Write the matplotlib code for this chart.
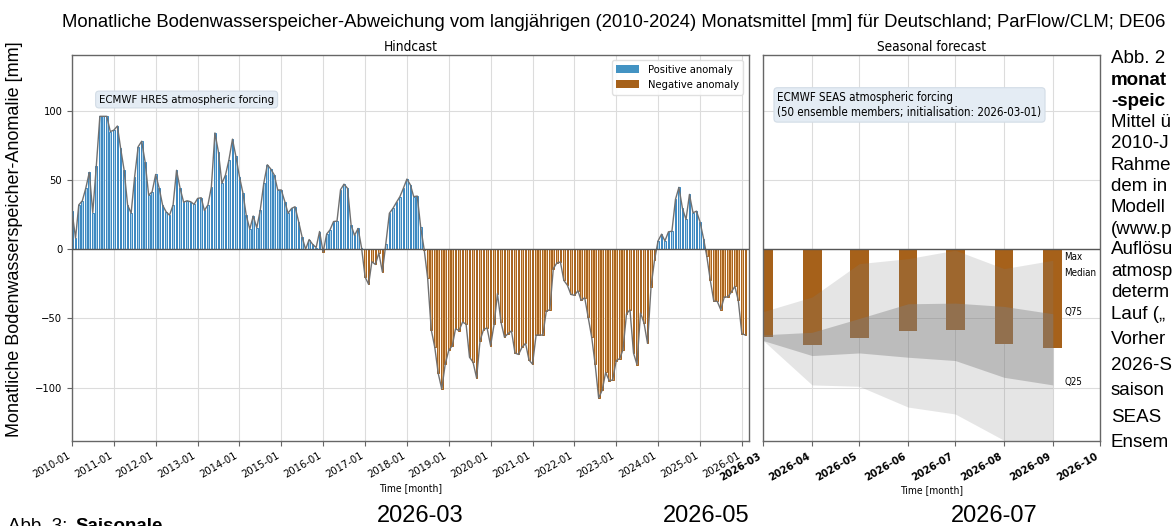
import numpy as np
import matplotlib
matplotlib.use("Agg")
import matplotlib.pyplot as plt
import matplotlib.dates as mdates
from matplotlib.patches import Patch

plt.rcParams["font.family"] = ["DejaVu Sans"]
plt.rcParams["font.stretch"] = "condensed"

# ---------------- data ----------------
hindcast_start = "2010-01"
hindcast_values = [
    27.5, 8, 32, 35, 44, 55.5, 26.5, 60, 96, 96, 96, 85,
    86, 89, 73, 57, 32, 26, 52, 74, 78, 63, 39, 41.5,
    54, 44, 32, 27, 24.6, 32, 57, 44, 34, 35, 34.3, 32.4,
    36.7, 37.2, 28, 32, 45, 84, 70.5, 47.6, 53.6, 64.5, 79.5, 67,
    52.4, 40.3, 24.6, 14.5, 24, 15.5, 28, 47.6, 61, 58, 53.6, 42.8,
    42.8, 34.3, 26, 29.5, 30.7, 20, 9, 0, 7, 3.6, 1.2, 12.8,
    -2, 11, 14, 20, 20.3, 43, 47, 44, 17.4, 10, 15, 1.2,
    -20, -25.4, -9, -11, -2.7, -16.4, 4, 26, 29.5, 33.8, 38, 44,
    50.7, 46.4, 38, 38.4, 16, -0.5, -21, -58, -70.8, -89.6, -101, -83,
    -73, -69.6, -57.5, -58.7, -52.7, -54, -78, -81.6, -93, -66, -58, -56.8,
    -69.6, -54, -32, -52.7, -63.5, -61, -59, -75, -76, -70.8, -68, -80,
    -83, -62, -62, -62, -44.7, -43.7, -14, -10, -9.2, -22.5, -26, -32.6,
    -33.3, -30, -37, -35, -49, -63.5, -83, -107.5, -101.7, -89, -95, -94.4,
    -80.4, -79, -72.5, -46.6, -43.7, -75, -83.3, -46, -53.4, -68, -27, -8,
    6, 10.9, 6, 12.6, 13, 36, 44.7, 29.5, 21.5, 39.6, 26.3, 27.5,
    19.8, 7.7, -5, -22.5, -37.4, -37.7, -43.7, -34.5, -34.5, -31, -26.8, -37,
    -61, -62,
]
hindcast_xlim = ["2010-01-01", "2026-03-01"]

forecast_months = ["2026-03", "2026-04", "2026-05", "2026-06", "2026-07", "2026-08", "2026-09"]
forecast_bar = [-63.5, -69, -64, -59, -58.4, -68.8, -71]
forecast_max = [-45, -34.5, -10.4, -6.8, -0.7, -14, -8]
forecast_q75 = [-61.8, -60, -50, -39.4, -38.9, -41.3, -46.6]
forecast_q25 = [-66, -76.8, -74.9, -78, -80.4, -92.5, -98]
forecast_min = [-66, -98, -99, -114, -119, -138, -152]
forecast_xlim = ["2026-03-01", "2026-10-01"]
forecast_ticks = ["2026-03", "2026-04", "2026-05", "2026-06", "2026-07", "2026-08", "2026-09", "2026-10"]

band_labels = ["Max", "Median", "Q75", "Q25"]
band_label_y = [-5.5, -17.3, -45.4, -95.7]

title = ("Monatliche Bodenwasserspeicher-Abweichung vom langjährigen (2010-2024) "
         "Monatsmittel [mm] für Deutschland; ParFlow/CLM; DE06")
ylabel = "Monatliche Bodenwasserspeicher-Anomalie [mm]"
side_lines = [("Abb. 2", False), ("monat", True), ("-speic", True), ("Mittel ü", False),
              ("2010-J", False), ("Rahme", False), ("dem in", False), ("Modell", False),
              ("(www.p", False), ("Auflösu", False), ("atmosp", False), ("determ", False),
              ("Lauf („", False), ("Vorher", False), ("2026-S", False), ("saison", False),
              ("SEAS", False), ("Ensem", False)]
side_baselines = [63.3, 85, 106, 127.3, 148.5, 170, 191, 212, 233.5, 254.5, 276,
                  297.3, 319.3, 344, 370, 395, 421.7, 446.7]
bottom_labels = ["2026-03", "2026-05", "2026-07"]
bottom_label_x = [420, 706, 994]

# ---------------- figure ----------------
W, H = 1172, 526
fig = plt.figure(figsize=(W / 100, H / 100), dpi=100)

def fx(px):
    return px / W

def fy(py):
    return 1 - py / H

ax1 = fig.add_axes([fx(72), fy(441), fx(748.6 - 72), (441 - 54.7) / H])
ax2 = fig.add_axes([fx(763.3), fy(441), fx(1100 - 763.3), (441 - 54.7) / H], sharey=ax1)

vals = np.array(hindcast_values, dtype=float)
start = np.datetime64(hindcast_start, "M")
dates = (start + np.arange(len(vals))).astype("datetime64[D]")

pos = np.where(vals > 0, vals, 0)
neg = np.where(vals < 0, vals, 0)

for ax in (ax1, ax2):
    ax.set_axisbelow(True)
    ax.grid(True, color="#dcdcdc", linewidth=0.8)
    for s in ax.spines.values():
        s.set_color("#666666")
        s.set_linewidth(1.0)

ax1.bar(dates, pos, width=15, facecolor="#a9d0ea", edgecolor="#3a87c0", linewidth=0.7, zorder=2)
ax1.bar(dates, neg, width=15, facecolor="#e6b47c", edgecolor="#a6611a", linewidth=0.7, zorder=2)
ax1.plot(dates, vals, color="#707070", linewidth=1.0, zorder=3)
ax1.axhline(0, color="#555555", linewidth=1.0, zorder=4)

ax1.set_xlim(np.datetime64(hindcast_xlim[0]), np.datetime64(hindcast_xlim[1]))
ax1.set_ylim(-138.5, 140.5)
ax1.set_yticks([-100, -50, 0, 50, 100])
ax1.xaxis.set_major_locator(mdates.YearLocator())
ax1.xaxis.set_major_formatter(mdates.DateFormatter("%Y-%m"))
ax1.tick_params(axis="both", labelsize=8, color="#666666")
plt.setp(ax1.get_xticklabels(), rotation=30, ha="right")
ax1.set_title("Hindcast", fontsize=9.8, pad=3)
ax1.set_xlabel("Time [month]", fontsize=7.5, labelpad=2)

ax1.text(0.04, 0.884, "ECMWF HRES atmospheric forcing", transform=ax1.transAxes,
         fontsize=8.2, va="center", ha="left",
         bbox=dict(boxstyle="round,pad=0.3", facecolor="#e4ecf4", edgecolor="#d2dce6", linewidth=0.8))

ax1.legend(handles=[Patch(facecolor="#4393c3", label="Positive anomaly"),
                    Patch(facecolor="#a6611a", label="Negative anomaly")],
           loc="upper right", fontsize=8, framealpha=0.9, edgecolor="#dddddd")

# forecast
fdates = np.array(forecast_months, dtype="datetime64[M]").astype("datetime64[D]")
ax2.bar(fdates, forecast_bar, width=12, color="#a6611a", zorder=2)
ax2.fill_between(fdates, forecast_min, forecast_max, color="grey", alpha=0.2, linewidth=0, zorder=3)
ax2.fill_between(fdates, forecast_q25, forecast_q75, color="grey", alpha=0.4, linewidth=0, zorder=3)
ax2.axhline(0, color="#555555", linewidth=1.0, zorder=4)
ax2.set_xlim(np.datetime64(forecast_xlim[0]), np.datetime64(forecast_xlim[1]))
ax2.set_xticks(np.array(forecast_ticks, dtype="datetime64[M]").astype("datetime64[D]"))
ax2.xaxis.set_major_formatter(mdates.DateFormatter("%Y-%m"))
ax2.tick_params(axis="x", labelsize=8, color="#666666")
ax2.tick_params(axis="y", left=False, labelleft=False)
plt.setp(ax2.get_xticklabels(), rotation=30, ha="right", fontweight="bold")
ax2.set_title("Seasonal forecast", fontsize=9.8, pad=3)
ax2.set_xlabel("Time [month]", fontsize=7.5, labelpad=2)

ax2.text(0.042, 0.87, "ECMWF SEAS atmospheric forcing\n(50 ensemble members; initialisation: 2026-03-01)",
         transform=ax2.transAxes, fontsize=8.3, va="center", ha="left", linespacing=1.15,
         bbox=dict(boxstyle="round,pad=0.3", facecolor="#e4ecf4", edgecolor="#d2dce6", linewidth=0.8))
for lab, yv in zip(band_labels, band_label_y):
    ax2.text(0.894, yv, lab, transform=ax2.get_yaxis_transform(), fontsize=7, va="center", ha="left")

# page text around the chart
fig.text(fx(62), fy(27), title, fontsize=13.3, family="Liberation Sans", stretch="normal",
         ha="left", va="baseline")
fig.text(fx(15), fy(239), ylabel, fontsize=13, family="Liberation Sans", stretch="normal",
         rotation=90, ha="center", va="center")
for (txt, bold), yb in zip(side_lines, side_baselines):
    fig.text(fx(1111), fy(yb), txt, fontsize=13.5, family="Liberation Sans", stretch="normal",
             fontweight="bold" if bold else "normal", ha="left", va="baseline")
for txt, xc in zip(bottom_labels, bottom_label_x):
    fig.text(fx(xc), fy(522), txt, fontsize=17, family="Liberation Sans", stretch="normal",
             ha="center", va="baseline")
fig.text(fx(8), fy(531), "Abb. 3:", fontsize=13.5, family="Liberation Sans", stretch="normal",
         ha="left", va="baseline")
fig.text(fx(75), fy(531), "Saisonale", fontsize=13.5, family="Liberation Sans", stretch="normal",
         fontweight="bold", ha="left", va="baseline")

fig.savefig("out.png", dpi=100)
